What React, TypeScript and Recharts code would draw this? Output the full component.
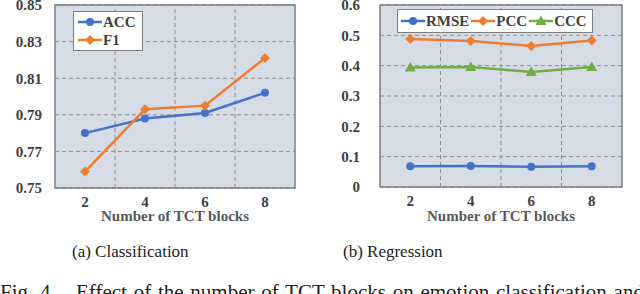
import { LineChart, Line, XAxis, YAxis, CartesianGrid, ReferenceArea, ReferenceLine } from 'recharts'

const blocks = [2, 4, 6, 8]
const acc = [0.78, 0.788, 0.791, 0.802]
const f1 = [0.759, 0.793, 0.795, 0.821]
const rmse = [0.068, 0.069, 0.067, 0.068]
const pcc = [0.488, 0.481, 0.465, 0.483]
const ccc = [0.394, 0.396, 0.379, 0.396]

const clsTicks = [0.75, 0.77, 0.79, 0.81, 0.83, 0.85]
const regTicks = [0, 0.1, 0.2, 0.3, 0.4, 0.5, 0.6]
const gridX = [3, 5, 7]

const BLUE = '#4472C4'
const ORANGE = '#ED7D31'
const GREEN = '#70AD47'
const FONT = '"Liberation Serif", "Times New Roman", serif'

const clsData = blocks.map((b, i) => ({ b, ACC: acc[i], F1: f1[i] }))
const regData = blocks.map((b, i) => ({ b, RMSE: rmse[i], PCC: pcc[i], CCC: ccc[i] }))

type Shape = 'circle' | 'diamond' | 'triangle'

function marker(shape: Shape, cx: number, cy: number, color: string, key?: string | number) {
  if (shape === 'circle') return <circle key={key} cx={cx} cy={cy} r={4} fill={color} />
  if (shape === 'diamond')
    return <path key={key} d={`M${cx},${cy - 5}L${cx + 5},${cy}L${cx},${cy + 5}L${cx - 5},${cy}Z`} fill={color} />
  return <path key={key} d={`M${cx},${cy - 5.5}L${cx + 5.5},${cy + 4}L${cx - 5.5},${cy + 4}Z`} fill={color} />
}

const makeDot = (shape: Shape, color: string) => (props: any) => {
  const { cx, cy, index } = props
  if (cx == null || cy == null) return <g key={index} />
  return marker(shape, cx, cy, color, index)
}

const tickStyle = { fontFamily: FONT, fontSize: 15, fontWeight: 700, fill: '#404040' }

function LegendItem({ name, color, shape }: { name: string; color: string; shape: Shape }) {
  return (
    <span style={{ display: 'inline-flex', alignItems: 'center', marginRight: 2 }}>
      <svg width={24} height={12}>
        <line x1={0} y1={6} x2={24} y2={6} stroke={color} strokeWidth={2.5} />
        {marker(shape, 12, 6, color)}
      </svg>
      <span style={{ fontFamily: FONT, fontSize: 15, fontWeight: 700, color: '#404040', marginLeft: 1, lineHeight: '18px' }}>
        {name}
      </span>
    </span>
  )
}

const gridLines = gridX.map((v) => (
  <ReferenceLine key={v} x={v} stroke="#8c8c8c" strokeDasharray="4 3" />
))

export default function App() {
  return (
    <div style={{ position: 'absolute', left: 0, top: 0, width: 640, height: 294, background: '#fff', overflow: 'hidden' }}>
      <div style={{ position: 'absolute', left: 0, top: 0 }}>
        <LineChart width={320} height={230} data={clsData} margin={{ top: 5, right: 25, left: 0, bottom: 0 }}>
          <CartesianGrid fill="#D6DCE5" stroke="#8c8c8c" strokeDasharray="4 3" vertical={false} />
          {gridLines}
          <ReferenceArea x1={1} x2={9} y1={0.75} y2={0.85} fill="none" stroke="#7f7f7f" strokeWidth={1.5} />
          <XAxis
            dataKey="b"
            type="number"
            domain={[1, 9]}
            ticks={blocks}
            interval={0}
            axisLine={false}
            tickLine={false}
            tick={tickStyle}
            height={42}
            label={{ value: 'Number of TCT blocks', position: 'insideBottom', offset: 9, style: { ...tickStyle, fill: '#595959' } }}
          />
          <YAxis
            domain={[0.75, 0.85]}
            ticks={clsTicks}
            interval={0}
            tickFormatter={(v: number) => v.toFixed(2)}
            axisLine={false}
            tickLine={false}
            tickMargin={7}
            tick={tickStyle}
            width={55}
          />
          <Line dataKey="ACC" stroke={BLUE} strokeWidth={2.5} dot={makeDot('circle', BLUE)} activeDot={false} isAnimationActive={false} />
          <Line dataKey="F1" stroke={ORANGE} strokeWidth={2.5} dot={makeDot('diamond', ORANGE)} activeDot={false} isAnimationActive={false} />
        </LineChart>
        <div style={{ position: 'absolute', left: 73, top: 11, background: '#fff', border: '1px solid #7f7f7f', padding: '1px 4px', display: 'flex', flexDirection: 'column' }}>
          <LegendItem name="ACC" color={BLUE} shape="circle" />
          <LegendItem name="F1" color={ORANGE} shape="diamond" />
        </div>
      </div>
      <div style={{ position: 'absolute', left: 320, top: 0 }}>
        <LineChart width={320} height={230} data={regData} margin={{ top: 5, right: 18, left: 0, bottom: 0 }}>
          <CartesianGrid fill="#D6DCE5" stroke="#8c8c8c" strokeDasharray="4 3" vertical={false} />
          {gridLines}
          <ReferenceArea x1={1} x2={9} y1={0} y2={0.6} fill="none" stroke="#7f7f7f" strokeWidth={1.5} />
          <XAxis
            dataKey="b"
            type="number"
            domain={[1, 9]}
            ticks={blocks}
            interval={0}
            axisLine={false}
            tickLine={false}
            tick={tickStyle}
            height={43}
            label={{ value: 'Number of TCT blocks', position: 'insideBottom', offset: 9, style: { ...tickStyle, fill: '#595959' } }}
          />
          <YAxis
            domain={[0, 0.6]}
            ticks={regTicks}
            interval={0}
            tickFormatter={(v: number) => (v === 0 ? '0' : v.toFixed(1))}
            axisLine={false}
            tickLine={false}
            tickMargin={14}
            tick={tickStyle}
            width={60}
          />
          <Line dataKey="RMSE" stroke={BLUE} strokeWidth={2.5} dot={makeDot('circle', BLUE)} activeDot={false} isAnimationActive={false} />
          <Line dataKey="PCC" stroke={ORANGE} strokeWidth={2.5} dot={makeDot('diamond', ORANGE)} activeDot={false} isAnimationActive={false} />
          <Line dataKey="CCC" stroke={GREEN} strokeWidth={2.5} dot={makeDot('triangle', GREEN)} activeDot={false} isAnimationActive={false} />
        </LineChart>
        <div style={{ position: 'absolute', left: 77, top: 9, background: '#fff', border: '1px solid #7f7f7f', padding: '2px 3px', display: 'flex' }}>
          <LegendItem name="RMSE" color={BLUE} shape="circle" />
          <LegendItem name="PCC" color={ORANGE} shape="diamond" />
          <LegendItem name="CCC" color={GREEN} shape="triangle" />
        </div>
      </div>
      <div style={{ position: 'absolute', left: 72, top: 242, fontFamily: FONT, fontSize: 17, color: '#222' }}>(a) Classification</div>
      <div style={{ position: 'absolute', left: 343, top: 242, fontFamily: FONT, fontSize: 17, color: '#222' }}>(b) Regression</div>
      <div style={{ position: 'absolute', left: 0, top: 282, fontFamily: FONT, fontSize: 21, lineHeight: '21px', color: '#222', whiteSpace: 'nowrap', wordSpacing: 1.5 }}>
        Fig. 4.&nbsp;&nbsp;&nbsp;Effect of the number of TCT blocks on emotion classification and
      </div>
    </div>
  )
}
